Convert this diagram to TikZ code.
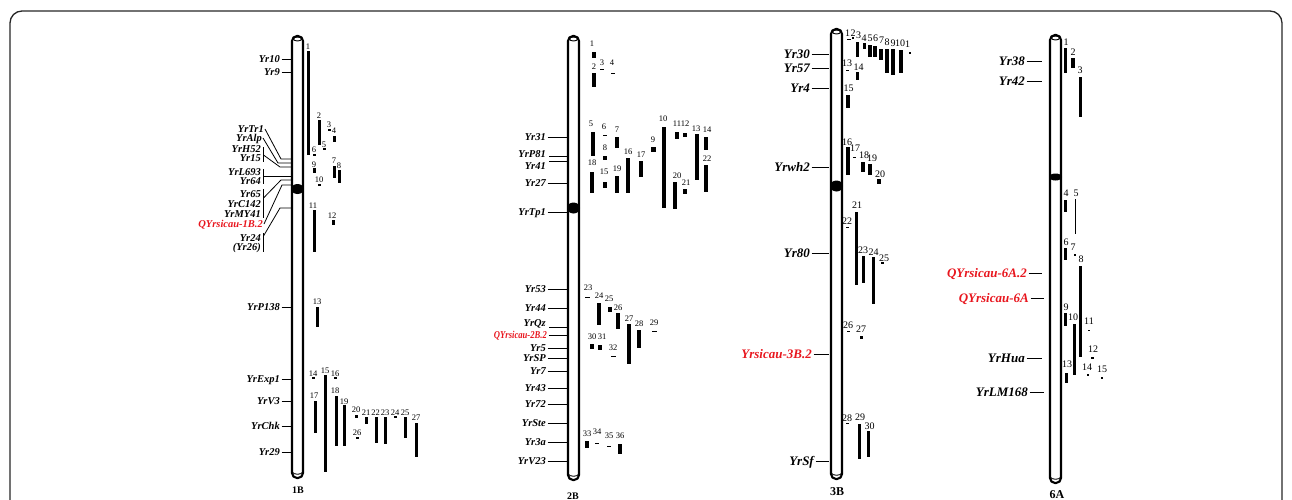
\documentclass[tikz,border=0pt]{standalone}
\usepackage{fontspec}
\setmainfont{Liberation Serif}
\definecolor{qred}{RGB}{232,22,30}
\tikzset{
 lab/.style={font=\fontsize{10.5}{10.5}\selectfont\bfseries\itshape, inner sep=0pt, anchor=base east},
 labL/.style={font=\fontsize{13}{13}\selectfont\bfseries\itshape, inner sep=0pt, anchor=base east},
 redlab/.style={lab, text=qred},
 redlabL/.style={labL, text=qred},
 num/.style={font=\fontsize{8.5}{8.5}\selectfont, inner sep=0pt},
 numL/.style={font=\fontsize{10}{10}\selectfont, inner sep=0pt},
 tick/.style={line width=0.8pt},
 chr/.style={line width=2.1pt, rounded corners=5pt, fill=white},
 chrcap/.style={line width=0.9pt},
 cen/.style={fill=black},
 chrname/.style={font=\fontsize{10}{10}\selectfont\bfseries, inner sep=0pt},
 chrnameL/.style={font=\fontsize{12}{12}\selectfont\bfseries, inner sep=0pt},
 frame/.style={line width=1.3pt, rounded corners=12pt, draw=black!85}
}
\def\bo{3.6}
\def\numst{num}
% left marker: [style]{name}{x text end}{y}{x line end}{text}
\newcommand\LB[6][lab]{\node[#1] (#2) at (#3,#4+\bo) {#6};\coordinate (#2-c) at (#5,#4);\draw[tick] ([xshift=1.5pt,yshift=\bo pt]#2.base east) -- (#2-c);}
% qtl bar: name, x, y1, y2, w, lx, ly, text
\newcommand\Q[8]{\fill ({#2-#5/2},#3) rectangle ({#2+#5/2},#4);\node[\numst] (#1) at (#6,#7) {#8};}
% chromosome: name, xl, xr, top, bottom, centromere y, centromere half height
\newcommand\CHR[7]{%
 \draw[chr] (#2,#4) rectangle (#3,#5);
 \draw[chrcap] ({(#2+#3)/2},{#4+3}) ellipse ({(#3-#2)/2-1.5} and 2);
 \draw[chrcap] (#2,{#5-6}) .. controls ({#2+2},{#5-3}) and ({#3-2},{#5-3}) .. (#3,{#5-6});
 \fill[cen] ({(#2+#3)/2},#6) ellipse ({(#3-#2)/2+1} and #7);
 \coordinate (#1) at ({(#2+#3)/2},#6);}
\begin{document}
\begin{tikzpicture}[x=1pt,y=-1pt]
\useasboundingbox (0,0) rectangle (1292,499);
\clip (0,0) rectangle (1292,499);
\draw[frame] (10,11) rectangle (1282,530);

% ================= 1B =================
\CHR{c1B}{292}{303}{36}{478}{189}{5}
\node[chrname] (n1B) at (298,490) {1B};
\LB{yr10}{280}{59}{292}{Yr10}
\LB{yr9}{280}{72}{292}{Yr9}
\LB{yrp138}{280}{307}{292}{YrP138}
\LB{yrexp1}{280}{379}{292}{YrExp1}
\LB{yrv3}{280}{401}{292}{YrV3}
\LB{yrchk}{280}{426}{292}{YrChk}
\LB{yr29}{280}{452}{292}{Yr29}
\node[lab] (yrtr1) at (264,129+3.5) {YrTr1};
\node[lab] (yralp) at (262,138+3.5) {YrAlp};
\node[lab] (yrh52) at (261,149+3.5) {YrH52};
\node[lab] (yr15) at (261,158+3.5) {Yr15};
\node[lab] (yrl693) at (261,172+3.5) {YrL693};
\node[lab] (yr64) at (261,181+3.5) {Yr64};
\node[lab] (yr65) at (261,194+3.5) {Yr65};
\node[lab] (yrc142) at (261,204+3.5) {YrC142};
\node[lab] (yrmy41) at (261,214+3.5) {YrMY41};
\node[redlab] (q1b2) at (263,224+3.5) {QYrsicau-1B.2};
\node[lab] (yr24) at (261,238+3.5) {Yr24};
\node[lab] (yr26) at (261,247+3.5) {(Yr26)};
\draw[tick] ([xshift=1pt,yshift=3.5pt]yrtr1.base east) -- (281,159) -- (292,159);
\draw[tick] ([xshift=1pt,yshift=3.5pt]yralp.base east) -- (278,163) -- (292,163);
\draw[tick] (263.5,147) -- (263.5,162);
\draw[tick] (263.5,155) -- (280,167) -- (292,167);
\draw[tick] (263.5,169) -- (263.5,184);
\draw[tick] (263.5,176) -- (292,176);
\draw[tick] (263.5,189) -- (263.5,218);
\draw[tick] (263.5,198) -- (281,180) -- (292,180);
\draw[tick] ([xshift=1pt,yshift=3.5pt]q1b2.base east) -- (282,185) -- (292,185);
\draw[tick] (263.5,233) -- (263.5,252);
\draw[tick] (263.5,236) -- (280,208) -- (292,208);

\Q{a1}{308}{51}{155}{3}{308}{47}{1}
\Q{a2}{319.5}{120}{145}{3}{319}{116}{2}
\Q{a3}{329}{129}{131}{3}{329}{125}{3}
\Q{a4}{334}{136}{142}{3}{334}{131}{4}
\Q{a5}{324}{148}{150}{3}{324}{145}{5}
\Q{a6}{314}{154}{156}{3}{314}{150}{6}
\Q{a7}{334}{166}{178}{3}{334}{161}{7}
\Q{a8}{339}{170}{183}{3}{339}{166}{8}
\Q{a9}{314}{168}{173}{3}{314}{165}{9}
\Q{a10}{319}{184}{186}{3}{319}{180}{10}
\Q{a11}{314}{210}{252}{3}{313}{206}{11}
\Q{a12}{333}{220}{225}{3}{332}{216}{12}
\Q{a13}{317}{307}{327}{3}{317}{302}{13}
\Q{a14}{313}{377}{379}{3}{313}{374}{14}
\Q{a15}{325}{375}{472}{3}{325}{371}{15}
\Q{a16}{335}{377}{379}{3}{335}{374}{16}
\Q{a17}{315}{401}{433}{3}{314}{396}{17}
\Q{a18}{336}{396}{446}{3}{335}{391}{18}
\Q{a19}{344}{405}{446}{3}{344}{402}{19}
\Q{a20}{356}{415}{418}{3}{356}{410}{20}
\Q{a21}{366}{417}{424}{3}{366}{413}{21}
\Q{a22}{376}{417}{443}{3}{375.5}{413}{22}
\Q{a23}{385}{417}{444}{3}{385}{413}{23}
\Q{a24}{395}{416}{418}{3}{395}{413}{24}
\Q{a25}{405}{417}{438}{3}{405}{413}{25}
\Q{a26}{357}{437}{439}{3}{357}{433}{26}
\Q{a27}{416}{423}{457}{3}{416}{418}{27}

% ================= 2B =================
\CHR{c2B}{568}{579}{36}{480}{208}{5.5}
\node[chrname] (n2B) at (573,496) {2B};
\LB{yr31}{546}{137}{568}{Yr31}
\node[lab] (yrp81) at (546,154+3.6) {YrP81};
\node[lab] (yr41) at (546,166+3.6) {Yr41};
\coordinate (yrp81-a) at (549,156); \coordinate (yrp81-c) at (568,156);
\coordinate (yr41-a) at (549,161); \coordinate (yr41-c) at (568,161);
\draw[tick] (yrp81-a) -- (yrp81-c);
\draw[tick] (yr41-a) -- (yr41-c);
\LB{yr27}{546}{183}{568}{Yr27}
\LB{yrtp1}{546}{212}{568}{YrTp1}
\LB{yr53}{546}{289}{568}{Yr53}
\LB{yr44}{546}{308}{568}{Yr44}
\node[lab] (yrqz) at (546,323+3.6) {YrQz};
\coordinate (yrqz-a) at (549,327); \coordinate (yrqz-c) at (568,327);
\draw[tick] (yrqz-a) -- (yrqz-c);
\node[redlab] (q2b2) at (547,335+3.6) {\addfontfeature{FakeStretch=0.82}QYrsicau-2B.2};
\coordinate (q2b2-c) at (568,335);
\draw[tick] ([xshift=1.5pt,yshift=3.6pt]q2b2.base east) -- (q2b2-c);
\LB{yr5}{546}{348}{568}{Yr5}
\LB{yrsp}{546}{358}{568}{YrSP}
\LB{yr7}{546}{371}{568}{Yr7}
\LB{yr43}{546}{388}{568}{Yr43}
\LB{yr72}{546}{404}{568}{Yr72}
\LB{yrste}{546}{423}{568}{YrSte}
\LB{yr3a}{546}{442}{568}{Yr3a}
\LB{yrv23}{546}{461}{568}{YrV23}

\Q{b1}{594}{52}{58}{4}{592}{44}{1}
\Q{b2}{594}{73}{87}{4}{594}{67}{2}
\Q{b3}{602}{68.5}{70}{4}{602}{63}{3}
\Q{b4}{613}{72.5}{74}{4}{612}{63}{4}
\Q{b5}{593}{132}{156}{4}{591}{124}{5}
\Q{b6}{605}{134.5}{136}{4}{604}{127}{6}
\Q{b7}{617}{137}{148}{4}{617}{130}{7}
\Q{b8}{605}{156}{160}{4}{605}{148}{8}
\Q{b9}{653.5}{147}{152}{5}{653}{140}{9}
\Q{b10}{664}{127}{208}{4}{663}{119}{10}
\Q{b11}{677}{132}{139}{4}{677}{124}{11}
\Q{b12}{685}{133}{137}{4}{685}{124}{12}
\Q{b13}{697}{134}{180}{4}{696}{129}{13}
\Q{b14}{706}{137}{150}{4}{707}{130}{14}
\Q{b15}{605}{182}{188}{4}{604}{172}{15}
\Q{b16}{628}{158}{193}{4}{628}{152}{16}
\Q{b17}{641}{161}{177}{4}{641}{155}{17}
\Q{b18}{592}{172}{193}{4}{592}{163}{18}
\Q{b19}{617}{176}{193}{4}{617}{169}{19}
\Q{b20}{675}{182}{209}{4}{677}{176}{20}
\Q{b21}{685}{189}{194}{4}{686}{183}{21}
\Q{b22}{706}{165}{192}{4}{707}{159}{22}
\Q{b23}{587}{296.5}{298}{5}{588}{288}{23}
\Q{b24}{599}{303}{325}{4}{599}{296}{24}
\Q{b25}{610}{307}{312}{4}{609}{299}{25}
\Q{b26}{618}{313}{329}{4}{618}{308}{26}
\Q{b27}{629}{324}{364}{4}{629}{319}{27}
\Q{b28}{639}{330}{348}{4}{639}{324}{28}
\Q{b29}{654}{330.5}{332}{5}{654}{323}{29}
\Q{b30}{592}{344}{349}{4}{592}{337}{30}
\Q{b31}{600}{345}{350}{4}{602}{337}{31}
\Q{b32}{613}{355.5}{357}{5}{613}{348}{32}
\Q{b33}{587}{441}{448}{4}{587}{434}{33}
\Q{b34}{597}{442.5}{444}{4}{597}{432}{34}
\Q{b35}{609}{445.5}{447}{4}{609}{436}{35}
\Q{b36}{620}{444}{454}{4}{620}{436}{36}

% ================= 3B =================
\def\bo{4.4}
\def\numst{numL}
\CHR{c3B}{831}{842}{29}{479}{186}{5.5}
\node[chrnameL] (n3B) at (837,492) {3B};
\LB[labL]{yr30}{810}{54}{829}{Yr30}
\LB[labL]{yr57}{810}{68}{829}{Yr57}
\LB[labL]{yr4}{810}{88}{829}{Yr4}
\LB[labL]{yrwh2}{810}{167}{829}{Yrwh2}
\LB[labL]{yr80}{810}{253}{829}{Yr80}
\LB[redlabL]{y3b2}{812}{354}{829}{Yrsicau-3B.2}
\LB[labL]{yrsf}{814}{461}{829}{YrSf}

\Q{c1}{849}{38.5}{40}{4}{847.5}{33}{1}
\Q{c2}{853}{37}{39}{2.5}{853}{33}{2}
\Q{c3}{857.5}{42}{57}{3.5}{858.5}{35}{3}
\Q{c4}{864.5}{43}{49}{3.5}{864}{38}{4}
\Q{c5}{870}{45}{57}{3.5}{870}{38}{5}
\Q{c6}{875}{46}{57}{3.5}{875.5}{38}{6}
\Q{c7}{881}{49}{60}{3.5}{881.5}{40}{7}
\Q{c8}{887}{49}{73}{3.5}{887}{42}{8}
\Q{c9}{893}{49}{75}{3.5}{893}{43}{9}
\Q{c10}{901}{50}{73}{3.5}{900}{43}{10}
\Q{c11}{910}{52}{54}{1.5}{907.5}{44}{1}
\Q{c13}{847}{69.5}{71}{3}{847}{63}{13}
\Q{c14}{857.5}{72}{80}{3.5}{858.5}{67}{14}
\Q{c15}{848}{95}{108}{3.5}{848.5}{88}{15}
\Q{c16}{847.5}{147}{175}{4}{847}{142}{16}
\Q{c17}{854}{156.5}{158}{3}{855}{148}{17}
\Q{c18}{863}{162}{172}{3.5}{864}{155}{18}
\Q{c19}{870}{164}{175}{3.5}{872}{158}{19}
\Q{c20}{879}{179}{184}{3.5}{880}{174}{20}
\Q{c21}{856.5}{212}{285}{3}{857}{205}{21}
\Q{c22}{847}{226.5}{228}{3}{847}{221}{22}
\Q{c23}{863.5}{256}{283}{3}{863}{250}{23}
\Q{c24}{873.5}{257}{304}{3}{873.5}{252}{24}
\Q{c25}{882}{262}{264}{3}{884}{258}{25}
\Q{c26}{848}{330.5}{332}{3}{848}{325}{26}
\Q{c27}{861}{336}{339}{3}{861}{329}{27}
\Q{c28}{847}{422.5}{424}{3}{847}{418}{28}
\Q{c29}{859.5}{424}{459}{3}{860}{417}{29}
\Q{c30}{868.5}{431}{457}{3}{869.5}{426}{30}

% ================= 6A =================
\CHR{c6A}{1050}{1061}{35}{483}{177}{3.5}
\node[chrnameL] (n6A) at (1057,495) {6A};
\LB[labL]{yr38}{1025}{61}{1042}{Yr38}
\LB[labL]{yr42}{1025}{81}{1042}{Yr42}
\LB[redlabL]{q6a2}{1027}{273}{1042}{QYrsicau-6A.2}
\LB[redlabL]{q6a}{1029}{298}{1044}{QYrsicau-6A}
\LB[labL]{yrhua}{1025}{358}{1042}{YrHua}
\LB[labL]{yrlm168}{1028}{392}{1044}{YrLM168}

\Q{d1}{1065.5}{48}{73}{3}{1066}{42}{1}
\Q{d2}{1073}{58}{68}{3.5}{1073}{52}{2}
\Q{d3}{1080.5}{77}{117}{3}{1080}{70}{3}
\Q{d4}{1065.5}{200}{212}{3}{1066}{193}{4}
\Q{d5}{1075.5}{199}{234}{1.2}{1076}{193}{5}
\Q{d6}{1065.5}{248}{260}{3}{1066}{242}{6}
\Q{d7}{1075}{254}{256}{2.5}{1073}{247}{7}
\Q{d8}{1080.5}{266}{357}{3}{1081}{259}{8}
\Q{d9}{1065.5}{313}{326}{3.5}{1066}{307}{9}
\Q{d10}{1074.5}{324}{375}{3}{1073}{317}{10}
\Q{d11}{1089}{329.5}{331}{1.5}{1089}{321}{11}
\Q{d12}{1092}{357}{359}{3}{1093}{349}{12}
\Q{d13}{1066.5}{373}{383}{3}{1067}{364}{13}
\Q{d14}{1088}{374}{376}{2.5}{1087}{367}{14}
\Q{d15}{1102}{377}{379}{2.5}{1102}{369}{15}
\end{tikzpicture}
\end{document}
